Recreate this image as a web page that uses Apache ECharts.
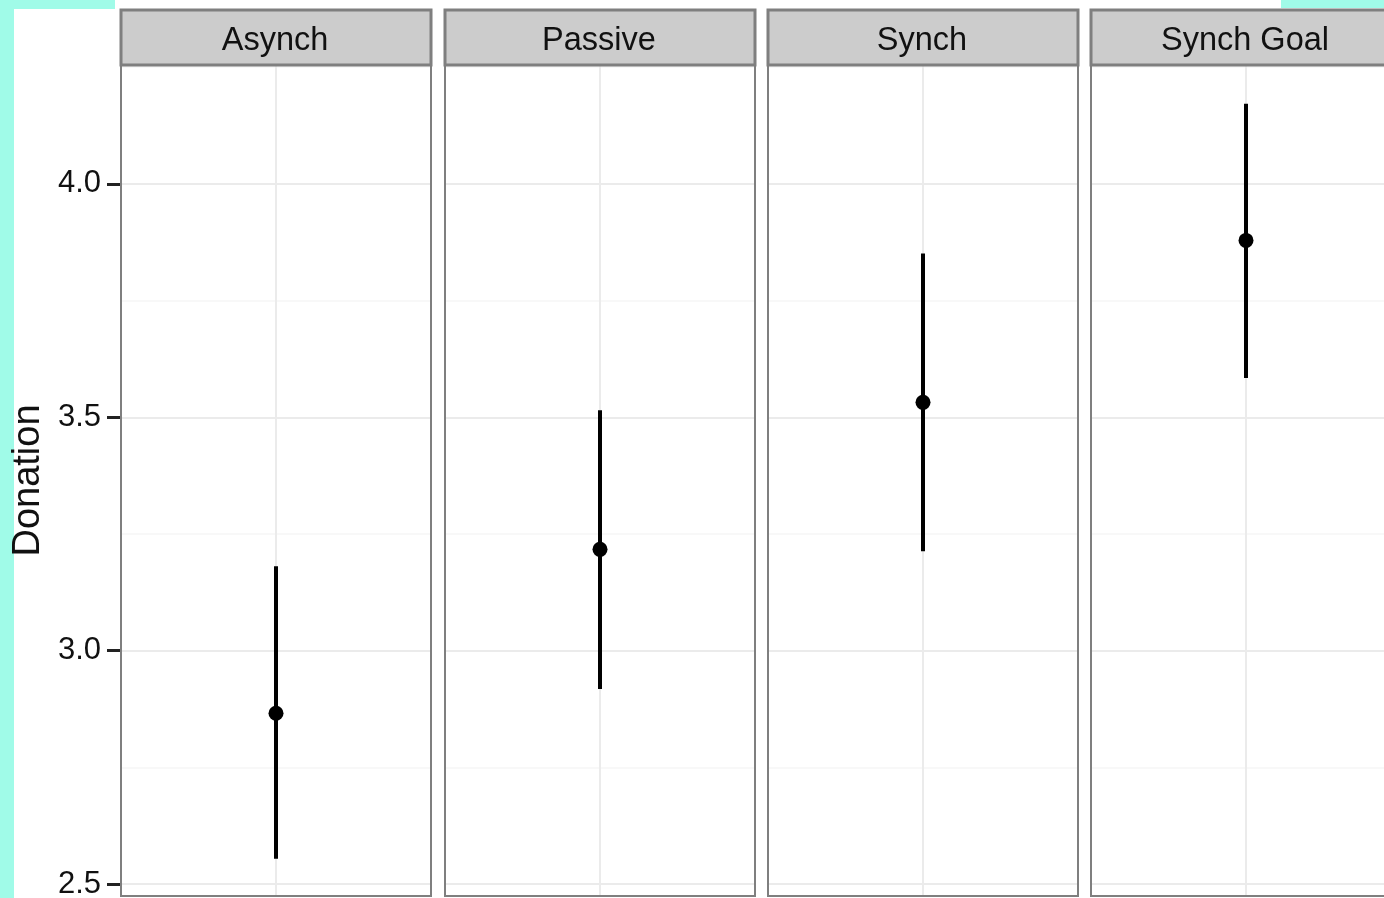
<!DOCTYPE html>
<html>
<head>
<meta charset="utf-8">
<script src="https://cdn.jsdelivr.net/npm/echarts@6/dist/echarts.min.js"></script>
<style>
html,body{margin:0;padding:0;background:#fff;}
#chart{width:1384px;height:898px;}
</style>
</head>
<body>
<div id="chart"></div>
<script>
// ---- data ----
const categories = ['Asynch', 'Passive', 'Synch', 'Synch Goal'];
const means = [2.866, 3.217, 3.532, 3.879];
const lower = [2.554, 2.918, 3.213, 3.584];
const upper = [3.181, 3.515, 3.851, 4.172];
const yTicks = [2.5, 3.0, 3.5, 4.0];
const yMinor = [2.75, 3.25, 3.75, 4.25];
const yName = 'Donation';

// ---- layout ----
const FONT = 'Liberation Sans, Arial, Helvetica, sans-serif';
const panelLefts = [121, 445, 768, 1091];
const panelW = 310;
const panelTop = 65;
const panelH = 831;
const stripTop = 10;
const yMin = 2.4743, yMax = 4.2548;
const majorColor = '#ebebeb';
const minorColor = '#f6f6f6';

const chart = echarts.init(document.getElementById('chart'), null, {renderer: 'canvas'});

const grids = [], xAxes = [], yAxes = [], series = [], graphics = [];

// background artifacts (screenshot border)
graphics.push(
  {type: 'rect', shape: {x: 0, y: 0, width: 14, height: 898}, style: {fill: '#a0fbe8'}, z: 0},
  {type: 'rect', shape: {x: 0, y: 0, width: 115, height: 9}, style: {fill: '#a0fbe8'}, z: 0},
  {type: 'rect', shape: {x: 1281, y: 0, width: 103, height: 8}, style: {fill: '#a0fbe8'}, z: 0}
);

categories.forEach((cat, i) => {
  grids.push({left: panelLefts[i], top: panelTop, width: panelW, height: panelH, outerBoundsMode: 'none', containLabel: false});
  xAxes.push({
    type: 'category', gridIndex: i, data: [cat], boundaryGap: true,
    axisLine: {show: false}, axisTick: {show: false}, axisLabel: {show: false}, splitLine: {show: false}
  });
  const first = i === 0;
  yAxes.push({
    type: 'value', gridIndex: i, min: yMin, max: yMax, splitNumber: 4,
    axisLine: {show: false},
    axisTick: {show: first, length: 14, customValues: yTicks, lineStyle: {color: '#222', width: 3}},
    axisLabel: {show: first, customValues: yTicks, margin: 20, fontSize: 31, fontFamily: FONT, color: '#111',
      padding: [4, 0, 0, 0],
      formatter: v => Number(v).toFixed(1)},
    splitLine: {show: true, lineStyle: {color: majorColor, width: 2}},
    name: first ? yName : '', nameLocation: 'middle', nameGap: 73, nameRotate: 90,
    nameTextStyle: {fontSize: 38, fontFamily: FONT, color: '#111'}
  });
  // gridline carrier
  series.push({
    type: 'line', xAxisIndex: i, yAxisIndex: i, data: [], z: 1, silent: true,
    markLine: {
      silent: true, symbol: 'none', z: 1, animation: false, label: {show: false},
      data: yMinor.map(v => ({yAxis: v, lineStyle: {color: minorColor, width: 1.5, type: 'solid'}}))
        .concat([{xAxis: cat, lineStyle: {color: majorColor, width: 2, type: 'solid'}}])
    }
  });
  // error bar
  series.push({
    type: 'custom', xAxisIndex: i, yAxisIndex: i, z: 5,
    data: [[cat, lower[i], upper[i]]],
    encode: {x: 0, y: [1, 2]},
    renderItem: function (params, api) {
      const x = api.value(0);
      const a = api.coord([x, api.value(1)]);
      const b = api.coord([x, api.value(2)]);
      return {type: 'line', shape: {x1: a[0], y1: a[1], x2: b[0], y2: b[1]}, style: {stroke: '#000', lineWidth: 4}};
    }
  });
  // mean point
  series.push({
    type: 'scatter', xAxisIndex: i, yAxisIndex: i, z: 6,
    data: [[cat, means[i]]], symbolSize: 15, itemStyle: {color: '#000', opacity: 1}
  });
  // panel border
  graphics.push({
    type: 'rect', z: 50, silent: true,
    shape: {x: panelLefts[i], y: panelTop, width: panelW, height: panelH},
    style: {fill: 'none', stroke: '#7f7f7f', lineWidth: 2}
  });
  // strip
  graphics.push({
    type: 'rect', z: 51, silent: true,
    shape: {x: panelLefts[i], y: stripTop, width: panelW, height: panelTop - stripTop},
    style: {fill: '#cccccc', stroke: '#7f7f7f', lineWidth: 3}
  });
  graphics.push({
    type: 'text', z: 52, silent: true,
    style: {text: cat, x: panelLefts[i] + panelW / 2 - 1, y: (stripTop + panelTop) / 2 + 4,
      textAlign: 'center', textVerticalAlign: 'middle', fill: '#111',
      font: '32.5px ' + FONT}
  });
});

chart.setOption({
  animation: false,
  backgroundColor: '#ffffff',
  grid: grids,
  xAxis: xAxes,
  yAxis: yAxes,
  series: series,
  graphic: {elements: graphics}
});
</script>
</body>
</html>
